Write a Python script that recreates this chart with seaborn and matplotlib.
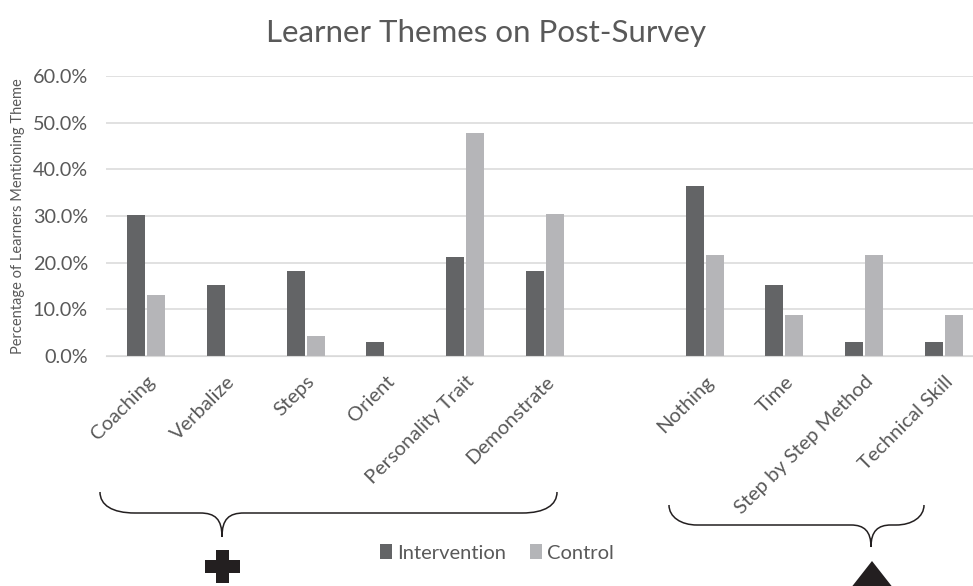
import numpy as np
import pandas as pd
import seaborn as sns
import matplotlib.pyplot as plt
from matplotlib.path import Path
from matplotlib.patches import PathPatch, Polygon, Rectangle, Patch

themes = ["Coaching", "Verbalize", "Steps", "Orient", "Personality Trait", "Demonstrate",
          "Nothing", "Time", "Step by Step Method", "Technical Skill"]
intervention = [30.3, 15.2, 18.2, 3.0, 21.2, 18.2, 36.4, 15.2, 3.0, 3.0]
control = [13.0, 0.0, 4.3, 0.0, 47.8, 30.4, 21.7, 8.7, 21.7, 8.7]
groups = ["Intervention", "Control"]
# blank slot between the two theme groups
order = themes[:6] + [" "] + themes[6:]

colors = {"Intervention": "#636466", "Control": "#b4b5b8"}
text_col = "#595959"

df = pd.DataFrame({
    "theme": themes * 2,
    "group": [groups[0]] * len(themes) + [groups[1]] * len(themes),
    "pct": intervention + control,
})

sns.set_style("white")
plt.rcParams["font.family"] = ["Lato", "DejaVu Sans"]

fig = plt.figure(figsize=(9.73, 5.86), dpi=100)
ax = fig.add_axes([106 / 973, 1 - 356 / 586, 878 / 973, 280 / 586])

sns.barplot(data=df, x="theme", y="pct", hue="group", order=order, hue_order=groups,
            palette=colors, width=0.5, gap=0.1, linewidth=0, ax=ax, legend=False)

ax.set_ylim(0, 60)
ax.set_xlim(-0.5, len(order) - 0.5)
ax.set_yticks(np.arange(0, 61, 10))
ax.set_yticklabels([f"{v:.1f}%" for v in np.arange(0, 61, 10)], fontsize=14.3, color=text_col)
ax.tick_params(axis="y", length=0, pad=13)
ax.tick_params(axis="x", length=0, pad=12)
ax.set_xticks(range(len(order)))
ax.set_xticklabels(order, rotation=45, ha="right", rotation_mode="anchor",
                   fontsize=14.5, color=text_col)
ax.yaxis.grid(True, color="#d9d9d9", linewidth=1.1)
ax.set_axisbelow(True)
for s in ["top", "right", "left"]:
    ax.spines[s].set_visible(False)
ax.spines["bottom"].set_color("#d9d9d9")
ax.set_xlabel("")
ax.set_ylabel("Percentage of Learners Mentioning Theme", fontsize=10.5, color=text_col)
ax.yaxis.set_label_coords(-81 / 878, 0.5)

fig.text(0.5, 1 - 33 / 586, "Learner Themes on Post-Survey", ha="center", va="center",
         fontsize=22.5, color=text_col)

handles = [Patch(facecolor=colors[g], edgecolor="none") for g in groups]
fig.legend(handles, groups, loc="center", bbox_to_anchor=(497 / 973, 1 - 553 / 586),
           ncol=2, frameon=False, fontsize=14.5, handlelength=0.6, handleheight=0.75,
           handletextpad=0.25, columnspacing=1.2, labelcolor=text_col)

# annotation overlay in pixel space: braces, plus sign, triangle
ov = fig.add_axes([0, 0, 1, 1], zorder=-1)
ov.set_xlim(0, 973)
ov.set_ylim(586, 0)
ov.axis("off")


def brace(x0, x1, xt, ytop, ymid, ytip, r=35, rt=22):
    verts = [(x0, ytop), (x0, ymid - 8), (x0 + 12, ymid), (x0 + r, ymid),
             (xt - rt, ymid),
             (xt - 7, ymid), (xt, ymid + 6), (xt, ytip),
             (xt, ymid + 6), (xt + 7, ymid), (xt + rt, ymid),
             (x1 - r, ymid),
             (x1 - 12, ymid), (x1, ymid - 8), (x1, ytop)]
    codes = [Path.MOVETO, Path.CURVE4, Path.CURVE4, Path.CURVE4,
             Path.LINETO,
             Path.CURVE4, Path.CURVE4, Path.CURVE4,
             Path.CURVE4, Path.CURVE4, Path.CURVE4,
             Path.LINETO,
             Path.CURVE4, Path.CURVE4, Path.CURVE4]
    ov.add_patch(PathPatch(Path(verts, codes), facecolor="none", edgecolor="#231f20", lw=1.1))


brace(100, 557, 222, 492, 513, 537)
brace(669, 924, 871, 505, 525, 547, r=28, rt=20)

ov.add_patch(Rectangle((205, 560), 35, 13, facecolor="#231f20", edgecolor="none"))
ov.add_patch(Rectangle((216, 550), 13, 33, facecolor="#231f20", edgecolor="none"))
ov.add_patch(Polygon([(872, 561), (901, 598), (843, 598)], closed=True,
                     facecolor="#231f20", edgecolor="none"))

fig.savefig("out.png", dpi=100)
